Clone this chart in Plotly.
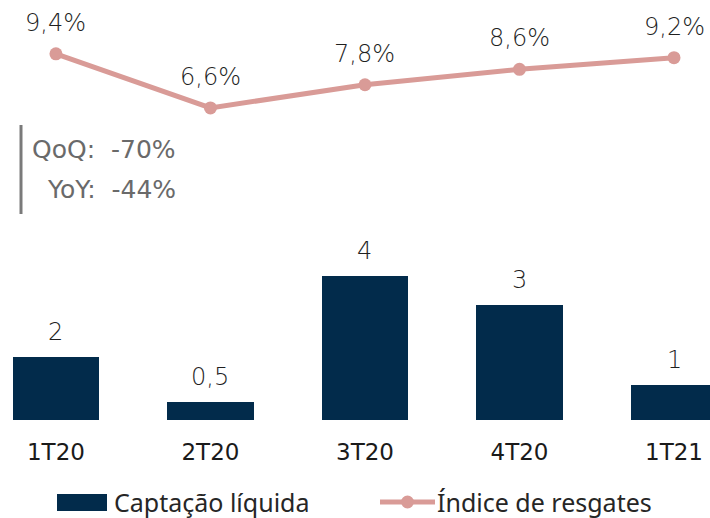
import plotly.graph_objects as go

categories = ["1T20", "2T20", "3T20", "4T20", "1T21"]
captacao = [1.7, 0.5, 3.9, 3.1, 0.95]
captacao_labels = ["2", "0,5", "4", "3", "1"]
resgates = [9.4, 6.6, 7.8, 8.6, 9.2]
resgates_labels = ["9,4%", "6,6%", "7,8%", "8,6%", "9,2%"]
qoq_text = "QoQ:&nbsp;&nbsp;-70%"
yoy_text = "YoY:&nbsp;&nbsp;-44%"
legend_names = ["Captação líquida", "Índice de resgates"]

NAVY = "#022b4b"
PINK = "#d99b97"
FONT = "DejaVu Sans"
LFONT = "Noto Sans"

fig = go.Figure()
fig.add_trace(go.Bar(
    x=categories, y=captacao, name=legend_names[0],
    marker=dict(color=NAVY, line=dict(width=0)), width=0.56,
    yaxis="y", hoverinfo="skip"))
fig.add_trace(go.Scatter(
    x=categories, y=resgates, name=legend_names[1], mode="lines+markers",
    line=dict(color=PINK, width=5), marker=dict(color=PINK, size=13),
    yaxis="y2", hoverinfo="skip"))

for c, v, t in zip(categories, captacao, captacao_labels):
    fig.add_annotation(x=c, y=v, yref="y", text=t, showarrow=False,
                       yshift=25, font=dict(family=FONT, size=24, color="#1f1f1f", weight=300))
for c, v, t in zip(categories, resgates, resgates_labels):
    fig.add_annotation(x=c, y=v, yref="y2", text=t, showarrow=False,
                       yshift=31, font=dict(family=FONT, size=24, color="#1f1f1f", weight=300))

H = 420.0
W = 710.0
def px(x):
    return x / W
def py(y):
    return 1 - y / H

fig.add_shape(type="line", xref="paper", yref="paper",
              x0=px(21), x1=px(21), y0=py(125), y1=py(214),
              line=dict(color="#7a7a7a", width=3))
fig.add_annotation(xref="paper", yref="paper", x=px(178), y=py(149), xanchor="right",
                   yanchor="middle", text=qoq_text, showarrow=False,
                   font=dict(family=FONT, size=25, color="#6a6a6a", weight=400))
fig.add_annotation(xref="paper", yref="paper", x=px(178), y=py(190), xanchor="right",
                   yanchor="middle", text=yoy_text, showarrow=False,
                   font=dict(family=FONT, size=25, color="#6a6a6a", weight=400))

# custom legend
fig.add_shape(type="rect", xref="paper", yref="paper",
              x0=px(57), x1=px(107), y0=py(494), y1=py(511),
              fillcolor=NAVY, line=dict(width=0))
fig.add_annotation(xref="paper", yref="paper", x=px(112), y=py(502), xanchor="left",
                   yanchor="middle", text=legend_names[0], showarrow=False,
                   font=dict(family=LFONT, size=25, color="#262626"))
fig.add_shape(type="line", xref="paper", yref="paper",
              x0=px(380), x1=px(435), y0=py(502), y1=py(502),
              line=dict(color=PINK, width=5))
fig.add_shape(type="circle", xref="paper", yref="paper",
              x0=px(401), x1=px(414), y0=py(495.5), y1=py(508.5),
              fillcolor=PINK, line=dict(width=0))
fig.add_annotation(xref="paper", yref="paper", x=px(435), y=py(502), xanchor="left",
                   yanchor="middle", text=legend_names[1], showarrow=False,
                   font=dict(family=LFONT, size=25, color="#262626"))

fig.update_layout(
    width=710, height=518,
    margin=dict(l=0, r=0, t=0, b=98, pad=0),
    paper_bgcolor="white", plot_bgcolor="white",
    showlegend=False,
    xaxis=dict(range=[-0.362, 4.233], showgrid=False, zeroline=False, showline=False,
               ticks="", ticklabelstandoff=16,
               tickfont=dict(family=FONT, size=23, color="#1a1a1a", weight=500)),
    yaxis=dict(range=[0, 420/37], visible=False, showgrid=False),
    yaxis2=dict(range=[-9.57, 12.19], visible=False, overlaying="y", showgrid=False),
    bargap=0,
)
fig.write_html("out.html", config={"displayModeBar": False},
               post_script="document.body.style.margin='0';document.body.style.padding='0';")
